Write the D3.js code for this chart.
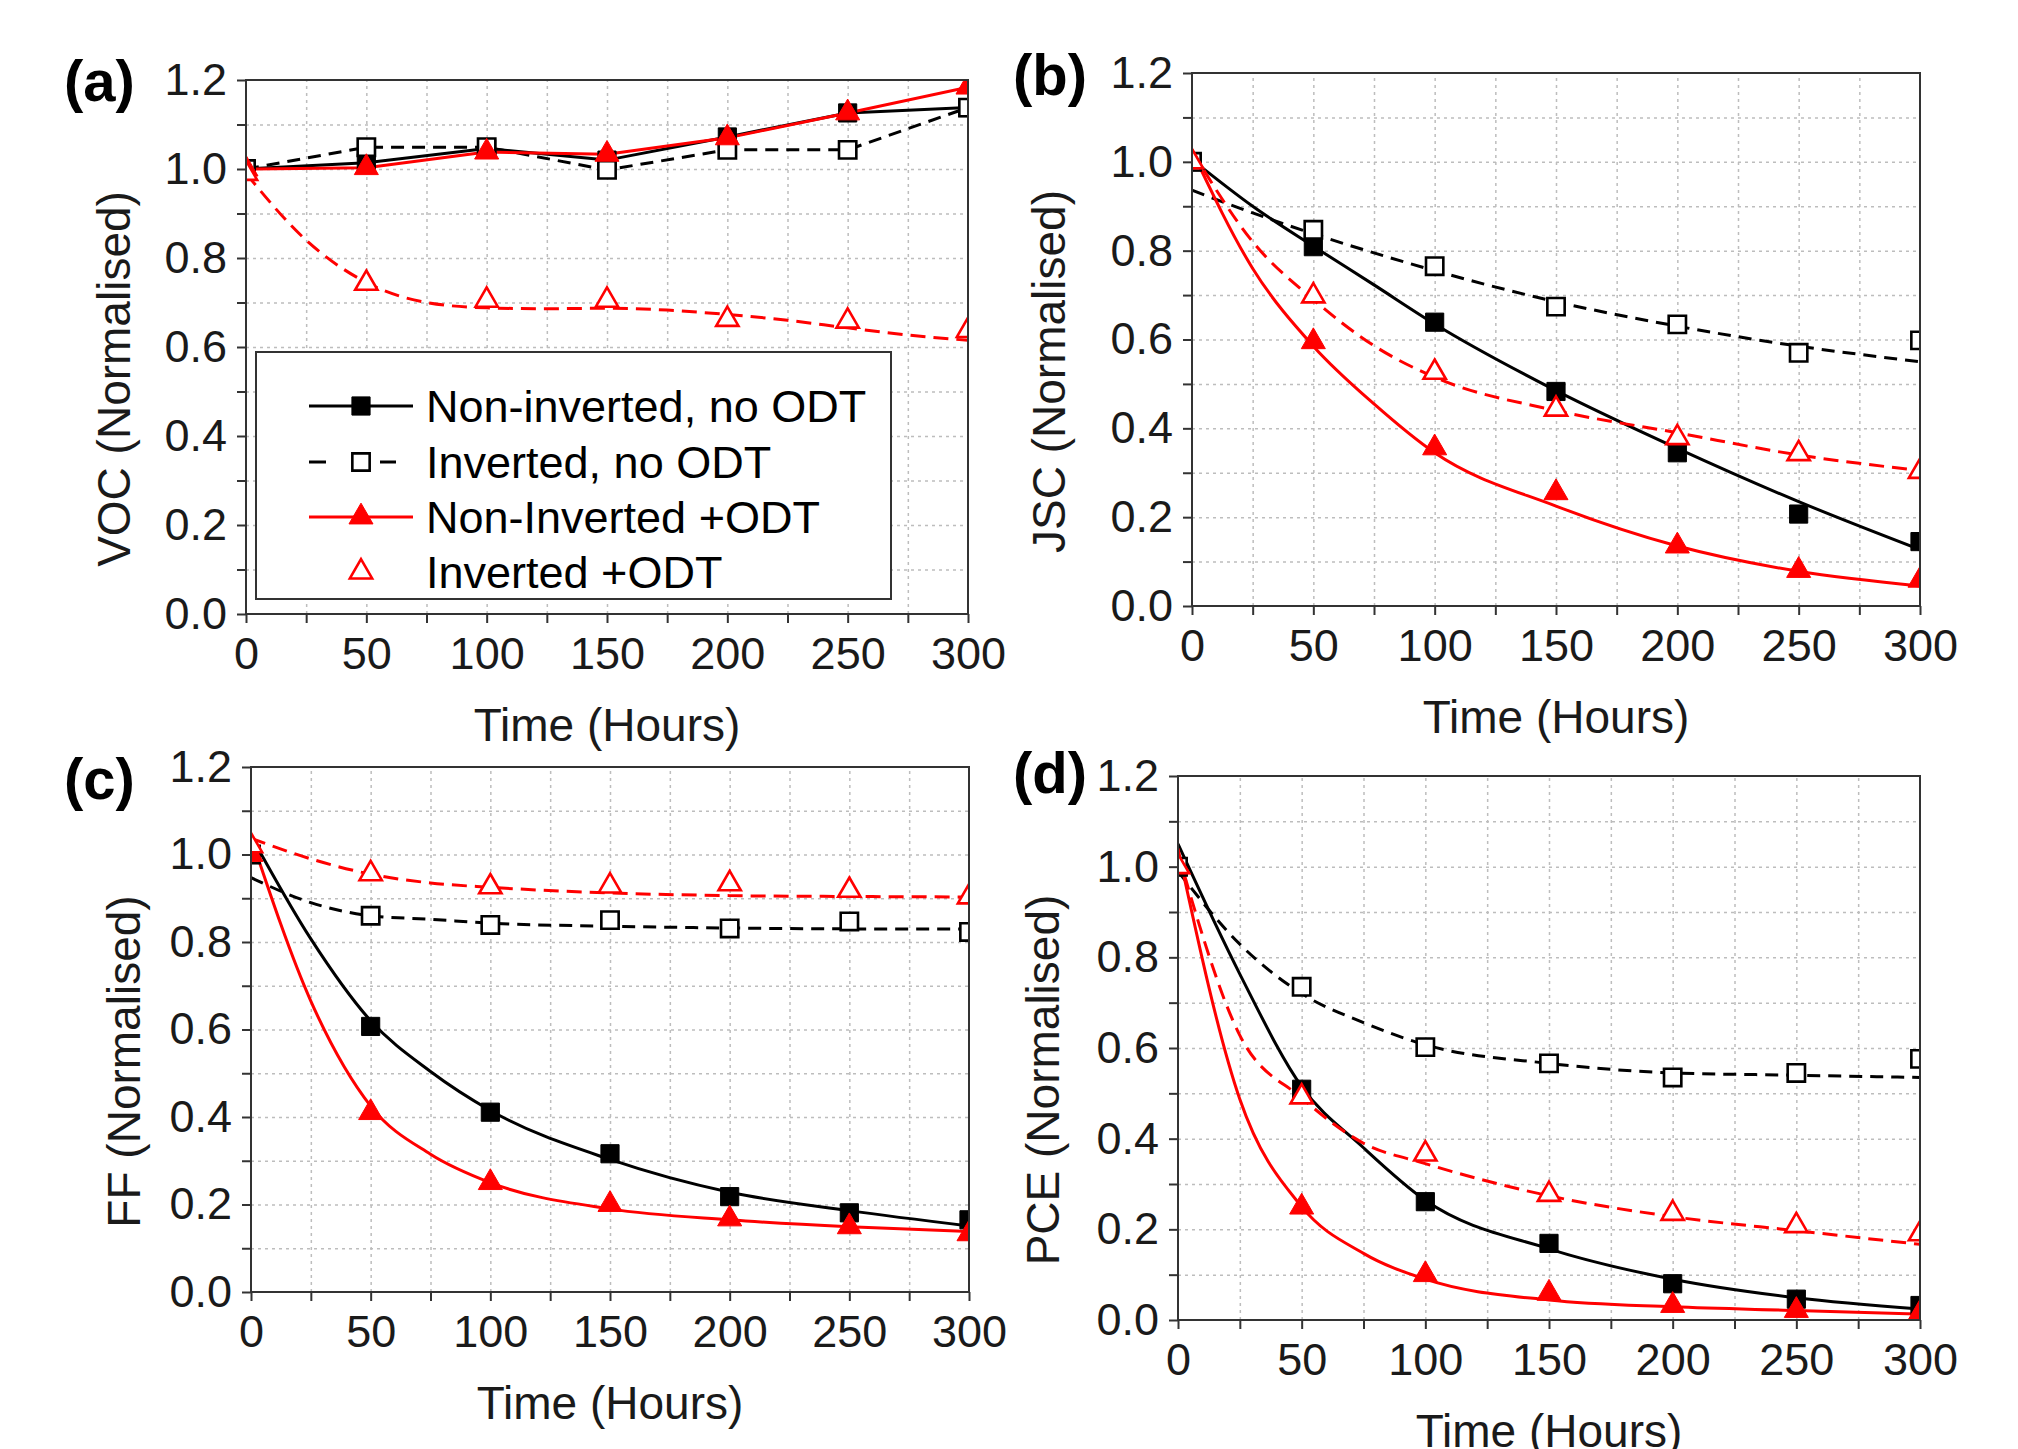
<!DOCTYPE html>
<head>
  <meta charset="utf-8">
  <script src="https://d3js.org/d3.v7.min.js"></script>
  <style>
  body,html {margin:0; background:#fff;}
  text {font-family:"Liberation Sans", Arial, sans-serif;}
  </style>
</head>
<body>
<script>

// time points of the measured markers (hours)
const TIME = [0, 50, 100, 150, 200, 250, 300];
const FIT_T = [0, 25, 50, 75, 100, 150, 200, 250, 300];
const FIT_T_A = [0, 25, 50, 75, 100, 125, 150, 175, 200, 225, 250, 275, 300];

const SERIES_NAMES = ["Non-inverted, no ODT", "Inverted, no ODT", "Non-Inverted +ODT", "Inverted +ODT"];
const Y_TICKS = [0, 0.2, 0.4, 0.6, 0.8, 1.0, 1.2];
const X_TICKS = [0, 50, 100, 150, 200, 250, 300];

// (a) VOC
const VOC_NONINV     = [1.0, 1.014, 1.046, 1.02, 1.072, 1.126, 1.138];
const VOC_INV        = [1.0, 1.049, 1.049, 0.998, 1.043, 1.043, 1.138];
const VOC_NONINV_ODT = [1.0, 1.003, 1.038, 1.033, 1.07, 1.126, 1.184];
const VOC_INV_ODT    = [0.99, 0.743, 0.705, 0.705, 0.662, 0.658, 0.637];
const VOC_INV_ODT_FIT = [0.99, 0.84, 0.745, 0.70, 0.688, 0.686, 0.687, 0.683, 0.673, 0.66, 0.643, 0.627, 0.615];

// (b) JSC
const JSC_NONINV     = [1.0, 0.809, 0.639, 0.483, 0.345, 0.207, 0.145];
const JSC_INV        = [1.0, 0.847, 0.765, 0.674, 0.634, 0.570, 0.598];
const JSC_NONINV_ODT = [1.0, 0.595, 0.356, 0.255, 0.135, 0.08, 0.058];
const JSC_INV_ODT    = [1.0, 0.698, 0.526, 0.443, 0.379, 0.343, 0.303];
const JSC_NONINV_FIT     = [1.005, 0.90, 0.81, 0.723, 0.635, 0.485, 0.355, 0.235, 0.127];
const JSC_INV_FIT        = [0.936, 0.885, 0.838, 0.795, 0.755, 0.685, 0.63, 0.585, 0.55];
const JSC_NONINV_ODT_FIT = [1.025, 0.76, 0.585, 0.455, 0.345, 0.225, 0.135, 0.078, 0.045];
const JSC_INV_ODT_FIT    = [1.025, 0.82, 0.69, 0.586, 0.515, 0.44, 0.39, 0.34, 0.305];

// (c) FF
const FF_NONINV     = [1.0, 0.607, 0.411, 0.316, 0.218, 0.181, 0.165];
const FF_INV        = [1.0, 0.86, 0.839, 0.85, 0.831, 0.847, 0.823];
const FF_NONINV_ODT = [1.0, 0.41, 0.25, 0.20, 0.167, 0.149, 0.133];
const FF_INV_ODT    = [1.02, 0.956, 0.926, 0.928, 0.933, 0.918, 0.903];
const FF_NONINV_FIT     = [1.043, 0.807, 0.62, 0.504, 0.415, 0.303, 0.228, 0.186, 0.151];
const FF_INV_FIT        = [0.947, 0.89, 0.86, 0.852, 0.843, 0.836, 0.832, 0.83, 0.83];
const FF_NONINV_ODT_FIT = [1.04, 0.665, 0.425, 0.315, 0.25, 0.19, 0.165, 0.149, 0.138];
const FF_INV_ODT_FIT    = [1.037, 0.99, 0.955, 0.935, 0.925, 0.912, 0.906, 0.904, 0.903];

// (d) PCE
const PCE_NONINV     = [1.0, 0.509, 0.261, 0.169, 0.08, 0.046, 0.032];
const PCE_INV        = [1.0, 0.735, 0.602, 0.566, 0.535, 0.545, 0.576];
const PCE_NONINV_ODT = [1.0, 0.249, 0.10, 0.059, 0.032, 0.021, 0.015];
const PCE_INV_ODT    = [1.0, 0.492, 0.366, 0.277, 0.235, 0.208, 0.19];
const PCE_NONINV_FIT     = [1.05, 0.763, 0.515, 0.38, 0.264, 0.157, 0.09, 0.049, 0.024];
const PCE_INV_FIT        = [0.99, 0.829, 0.72, 0.656, 0.607, 0.566, 0.545, 0.54, 0.535];
const PCE_NONINV_ODT_FIT = [1.04, 0.487, 0.25, 0.147, 0.09, 0.044, 0.029, 0.021, 0.013];
const PCE_INV_ODT_FIT    = [1.03, 0.628, 0.49, 0.39, 0.345, 0.274, 0.228, 0.197, 0.167];

// line/marker styles per series
const STYLES = [
  {color:"#000", marker:"square", filled:true, dash:null},
  {color:"#000", marker:"square", filled:false, dash:"13,8"},
  {color:"#ff0000", marker:"triangle", filled:true, dash:null},
  {color:"#ff0000", marker:"triangle", filled:false, dash:"15,8"}
];

const panels = [
  {label:"(a)", ytitle:"VOC (Normalised)", box:[246, 968, 80, 614], labelPos:[64, 101], yTitleX:130,
   points:[VOC_NONINV, VOC_INV, VOC_NONINV_ODT, VOC_INV_ODT],
   lines:[[TIME, VOC_NONINV, d3.curveLinear], [TIME, VOC_INV, d3.curveLinear], [TIME, VOC_NONINV_ODT, d3.curveLinear], [FIT_T_A, VOC_INV_ODT_FIT, d3.curveMonotoneX]],
   legend:true},
  {label:"(b)", ytitle:"JSC (Normalised)", box:[1192, 1920, 73, 606], labelPos:[1013, 95], yTitleX:1065,
   points:[JSC_NONINV, JSC_INV, JSC_NONINV_ODT, JSC_INV_ODT],
   lines:[[FIT_T, JSC_NONINV_FIT, d3.curveMonotoneX], [FIT_T, JSC_INV_FIT, d3.curveMonotoneX], [FIT_T, JSC_NONINV_ODT_FIT, d3.curveMonotoneX], [FIT_T, JSC_INV_ODT_FIT, d3.curveMonotoneX]]},
  {label:"(c)", ytitle:"FF (Normalised)", box:[251, 969, 767, 1292], labelPos:[64, 799], yTitleX:140,
   points:[FF_NONINV, FF_INV, FF_NONINV_ODT, FF_INV_ODT],
   lines:[[FIT_T, FF_NONINV_FIT, d3.curveMonotoneX], [FIT_T, FF_INV_FIT, d3.curveMonotoneX], [FIT_T, FF_NONINV_ODT_FIT, d3.curveMonotoneX], [FIT_T, FF_INV_ODT_FIT, d3.curveMonotoneX]]},
  {label:"(d)", ytitle:"PCE (Normalised)", box:[1178, 1920, 776, 1320], labelPos:[1013, 793], yTitleX:1059,
   points:[PCE_NONINV, PCE_INV, PCE_NONINV_ODT, PCE_INV_ODT],
   lines:[[FIT_T, PCE_NONINV_FIT, d3.curveMonotoneX], [FIT_T, PCE_INV_FIT, d3.curveMonotoneX], [FIT_T, PCE_NONINV_ODT_FIT, d3.curveMonotoneX], [FIT_T, PCE_INV_ODT_FIT, d3.curveMonotoneX]]}
];

const FONT = 45;
const svg = d3.select("body").append("svg")
  .attr("width", 2018).attr("height", 1449)
  .style("display", "block");

svg.append("rect").attr("width", 2018).attr("height", 1449).attr("fill", "#fff");

function markerPath(st, filled) {
  if (st.marker === "square") return d3.symbol(d3.symbolSquare, filled ? 330 : 300)();
  return d3.symbol(d3.symbolTriangle, filled ? 250 : 215)();
}

function drawMarker(g, st, x, y) {
  g.append("path")
    .attr("d", markerPath(st, st.filled))
    .attr("transform", `translate(${x},${y})`)
    .attr("fill", st.filled ? st.color : "#fff")
    .attr("stroke", st.color)
    .attr("stroke-width", st.filled ? 1 : 2.6);
}

panels.forEach((p, pi) => {
  const [L, R, T, B] = p.box;
  const x = d3.scaleLinear().domain([0, 300]).range([L, R]);
  const y = d3.scaleLinear().domain([0, 1.2]).range([B, T]);
  const g = svg.append("g");

  // grid (every 25 h / 0.1)
  g.append("g").attr("transform", `translate(0,${B})`)
    .call(d3.axisBottom(x).tickValues(d3.range(25, 300, 25)).tickSize(-(B - T)).tickFormat(""))
    .call(s => s.select(".domain").remove())
    .selectAll("line").attr("stroke", "#bdbdbd").attr("stroke-width", 1.5).attr("stroke-dasharray", "3,4");
  g.append("g").attr("transform", `translate(${L},0)`)
    .call(d3.axisLeft(y).tickValues(d3.range(1, 12).map(v => v / 10)).tickSize(-(R - L)).tickFormat(""))
    .call(s => s.select(".domain").remove())
    .selectAll("line").attr("stroke", "#bdbdbd").attr("stroke-width", 1.5).attr("stroke-dasharray", "3,4");

  // ticks + labels
  const xAx = g.append("g").attr("transform", `translate(0,${B})`)
    .call(d3.axisBottom(x).tickValues(d3.range(0, 301, 25)).tickSize(9).tickPadding(14)
      .tickFormat(d => X_TICKS.includes(d) ? d : ""));
  const yAx = g.append("g").attr("transform", `translate(${L},0)`)
    .call(d3.axisLeft(y).tickValues(d3.range(0, 13).map(v => v / 10)).tickSize(9).tickPadding(10)
      .tickFormat(d => Y_TICKS.some(t => Math.abs(t - d) < 1e-6) ? d3.format(".1f")(d) : ""));
  [xAx, yAx].forEach(a => {
    a.select(".domain").remove();
    a.selectAll("line").attr("stroke", "#333").attr("stroke-width", 2);
    a.selectAll("text").attr("font-size", FONT).attr("fill", "#1a1a1a")
      .style("font-family", "'Liberation Sans', Arial, sans-serif");
  });

  // data, clipped to the frame
  const clipId = "clip" + pi;
  svg.append("clipPath").attr("id", clipId)
    .append("rect").attr("x", L).attr("y", T).attr("width", R - L).attr("height", B - T);
  const plot = g.append("g").attr("clip-path", `url(#${clipId})`);

  p.lines.forEach((ln, si) => {
    const [ts, vs, curve] = ln;
    const st = STYLES[si];
    const line = d3.line().x((d, i) => x(ts[i])).y(d => y(d)).curve(curve);
    plot.append("path").datum(vs)
      .attr("d", line)
      .attr("fill", "none")
      .attr("stroke", st.color)
      .attr("stroke-width", 3)
      .attr("stroke-dasharray", st.dash);
  });
  p.points.forEach((vs, si) => {
    const st = STYLES[si];
    vs.forEach((v, i) => drawMarker(plot, st, x(TIME[i]), y(v)));
  });

  // frame
  g.append("rect").attr("x", L).attr("y", T).attr("width", R - L).attr("height", B - T)
    .attr("fill", "none").attr("stroke", "#333").attr("stroke-width", 2);

  // axis titles
  g.append("text").attr("x", (L + R) / 2).attr("y", B + 127)
    .attr("text-anchor", "middle").attr("font-size", FONT + 1).attr("fill", "#1a1a1a")
    .text("Time (Hours)");
  g.append("text").attr("transform", `translate(${p.yTitleX},${(T + B) / 2 + 32}) rotate(-90)`)
    .attr("text-anchor", "middle").attr("font-size", FONT + 1).attr("fill", "#1a1a1a")
    .text(p.ytitle);

  // panel letter
  g.append("text").attr("x", p.labelPos[0]).attr("y", p.labelPos[1])
    .attr("font-size", 58).attr("font-weight", "bold").attr("fill", "#000")
    .text(p.label);

  if (p.legend) {
    const lg = g.append("g");
    lg.append("rect").attr("x", 256).attr("y", 352).attr("width", 635).attr("height", 247)
      .attr("fill", "#fff").attr("stroke", "#333").attr("stroke-width", 2);
    const rowsY = [406, 462, 517, 572];
    SERIES_NAMES.forEach((name, si) => {
      const st = STYLES[si];
      const cy = rowsY[si];
      if (si === 0 || si === 2) {
        lg.append("line").attr("x1", 309).attr("x2", 413).attr("y1", cy).attr("y2", cy)
          .attr("stroke", st.color).attr("stroke-width", 3);
      } else if (si === 1) {
        [[309, 326], [380, 396]].forEach(s => lg.append("line")
          .attr("x1", s[0]).attr("x2", s[1]).attr("y1", cy).attr("y2", cy)
          .attr("stroke", st.color).attr("stroke-width", 3));
      }
      drawMarker(lg, st, 361, cy);
      lg.append("text").attr("x", 426).attr("y", cy + 16)
        .attr("font-size", FONT).attr("fill", "#000").text(name);
    });
  }
});

</script>
</body>
